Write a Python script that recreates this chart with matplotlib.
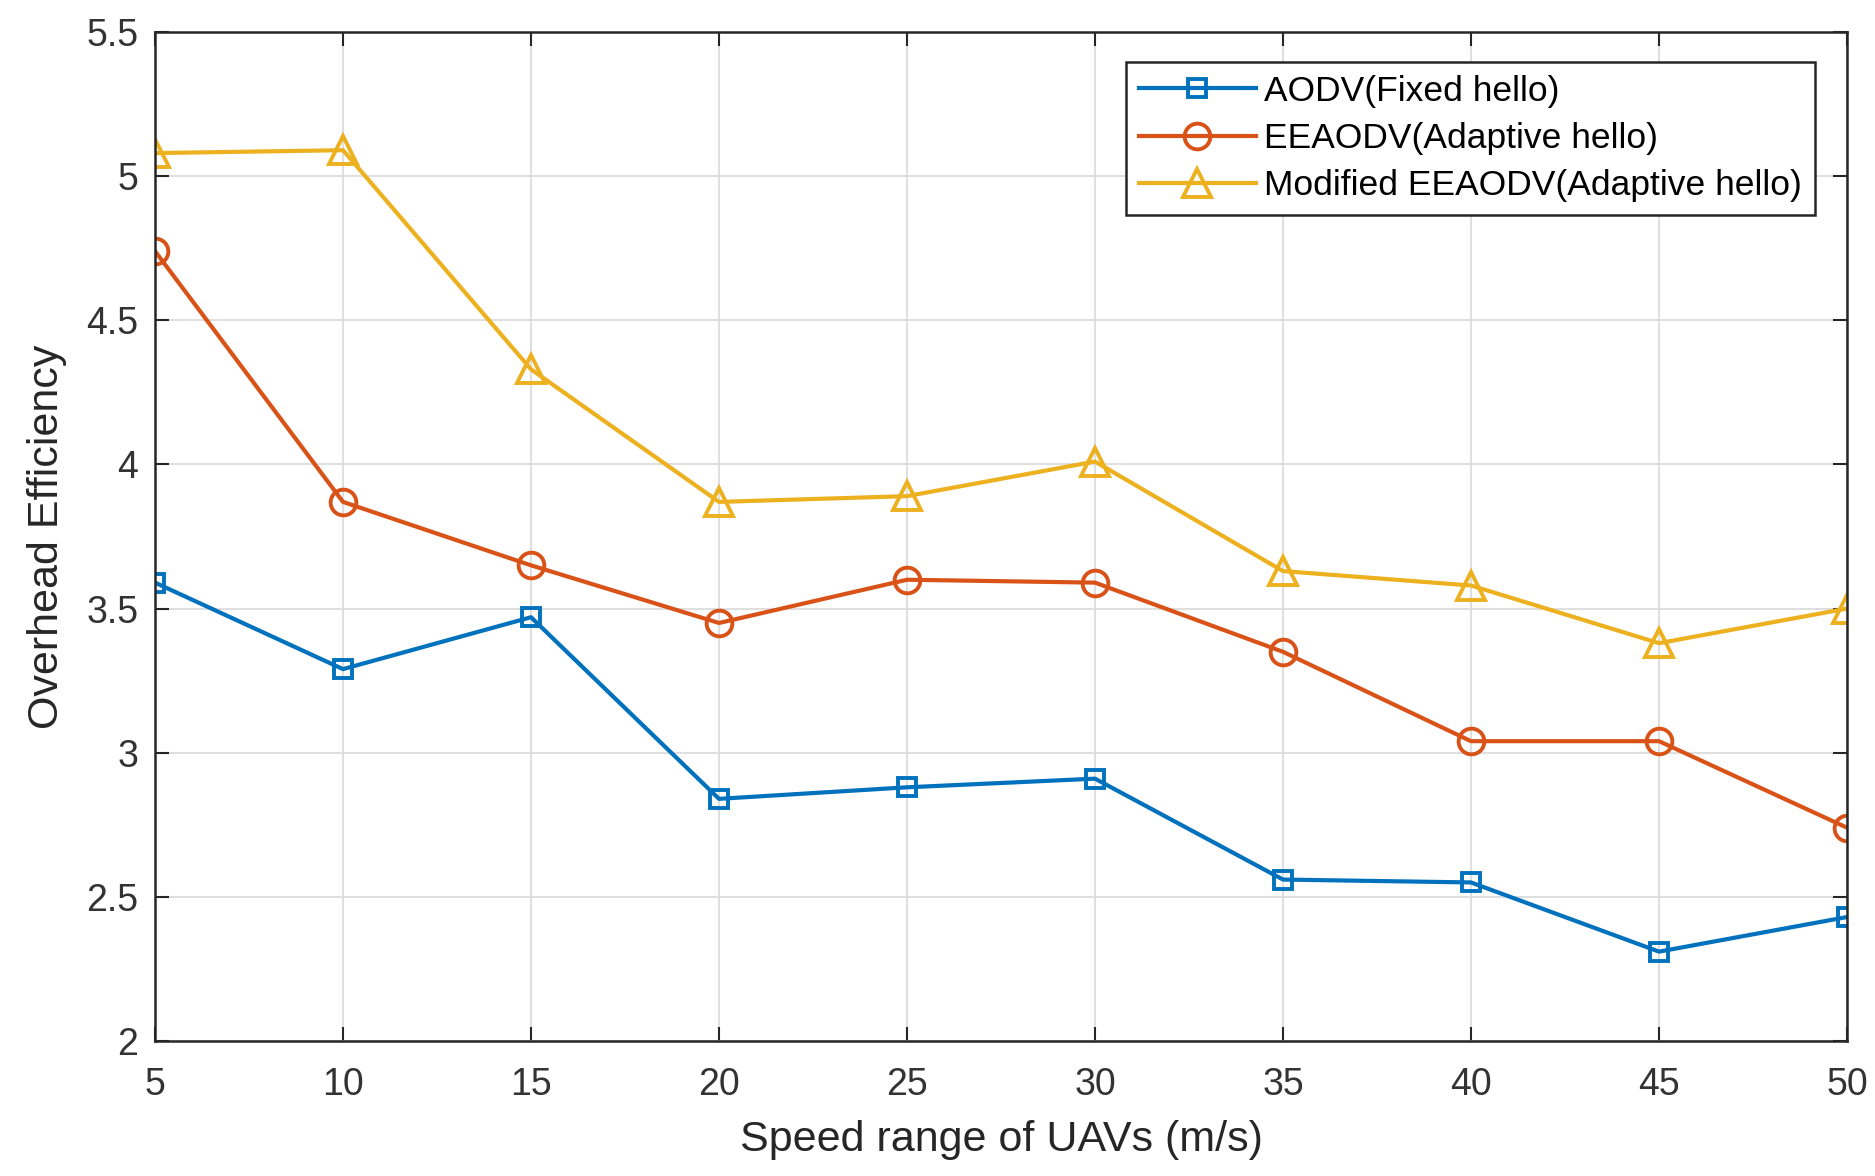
import matplotlib
matplotlib.use("Agg")
import matplotlib.pyplot as plt

plt.rcParams['font.family'] = ['Liberation Sans', 'DejaVu Sans']

speed = [5, 10, 15, 20, 25, 30, 35, 40, 45, 50]
aodv = [3.59, 3.29, 3.47, 2.84, 2.88, 2.91, 2.56, 2.55, 2.31, 2.43]
eeaodv = [4.74, 3.87, 3.65, 3.45, 3.60, 3.59, 3.35, 3.04, 3.04, 2.74]
mod_eeaodv = [5.08, 5.09, 4.33, 3.87, 3.89, 4.01, 3.63, 3.58, 3.38, 3.50]
labels = ['AODV(Fixed hello)', 'EEAODV(Adaptive hello)', 'Modified EEAODV(Adaptive hello)']
xticks = [5, 10, 15, 20, 25, 30, 35, 40, 45, 50]
yticks = [2, 2.5, 3, 3.5, 4, 4.5, 5, 5.5]
ytick_labels = ['2', '2.5', '3', '3.5', '4', '4.5', '5', '5.5']

c1 = (0.0, 0.447, 0.741)
c2 = (0.85, 0.325, 0.098)
c3 = (0.929, 0.694, 0.125)

fig = plt.figure(figsize=(18.75, 11.76), dpi=100)
ax = fig.add_axes([155/1875, 1 - 1041/1176, (1847-155)/1875, (1041-32)/1176])

lw = 3.0
ax.plot(speed, aodv, color=c1, lw=lw, marker='s', ms=13.5, mfc='none', mew=2.8, label=labels[0])
ax.plot(speed, eeaodv, color=c2, lw=lw, marker='o', ms=18.5, mfc='none', mew=2.8, label=labels[1])
ax.plot(speed, mod_eeaodv, color=c3, lw=lw, marker='^', ms=20.5, mfc='none', mew=2.8, label=labels[2])

ax.set_xlim(5, 50)
ax.set_ylim(2, 5.5)
ax.set_xticks(xticks)
ax.set_yticks(yticks)
ax.set_yticklabels(ytick_labels)
ax.grid(True, color='#dcdcdc', lw=1.3)
ax.set_axisbelow(True)
for s in ax.spines.values():
    s.set_color('#262626')
    s.set_linewidth(1.8)
ax.tick_params(axis='y', pad=12)
ax.tick_params(axis='x', pad=19)
ax.tick_params(direction='in', length=10, width=1.5, colors='#262626',
               labelsize=27, top=True, right=True, labelcolor='#333333')
ax.set_xlabel('Speed range of UAVs (m/s)', fontsize=31, color='#262626', labelpad=12)
ax.set_ylabel('Overhead Efficiency', fontsize=31, color='#262626', labelpad=14)

leg = ax.legend(loc='upper right', bbox_to_anchor=(1815/1875, 1 - 62/1176),
                bbox_transform=fig.transFigure, borderaxespad=0, fontsize=25.5,
                handlelength=3.3, fancybox=False, framealpha=1, edgecolor='#262626',
                labelspacing=0.4, borderpad=0.36, handletextpad=0.25)
leg.get_frame().set_linewidth(1.8)

fig.savefig('out.png', dpi=100)
